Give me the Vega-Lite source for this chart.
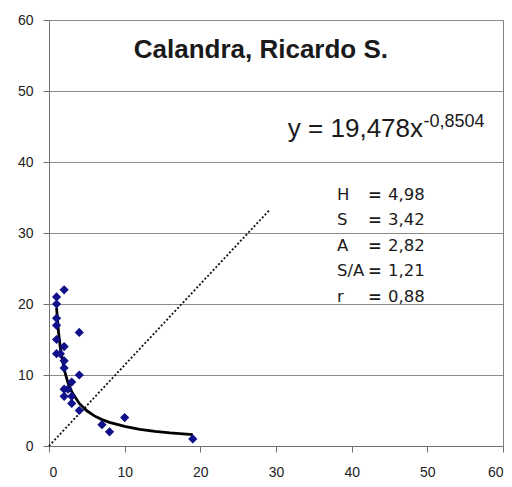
{
  "$schema": "https://vega.github.io/schema/vega-lite/v6.json",
  "width": 454,
  "height": 426,
  "autosize": "none",
  "padding": {"left": 49, "top": 20, "right": 9, "bottom": 41},
  "background": "white",
  "config": {
    "view": {"stroke": "#808080", "strokeWidth": 1},
    "axis": {
      "labelFont": "Liberation Sans",
      "labelFontSize": 14,
      "labelColor": "#222222",
      "domainColor": "#707070",
      "tickColor": "#707070",
      "tickSize": 6,
      "title": null
    }
  },
  "datasets": {
    "points": [
      {"x": 2, "y": 22}, {"x": 1, "y": 21}, {"x": 1, "y": 20}, {"x": 1, "y": 18},
      {"x": 1, "y": 17}, {"x": 1, "y": 15}, {"x": 1, "y": 13}, {"x": 1.5, "y": 13},
      {"x": 4, "y": 16}, {"x": 2, "y": 14}, {"x": 2, "y": 12}, {"x": 2, "y": 11},
      {"x": 4, "y": 10}, {"x": 3, "y": 9}, {"x": 2, "y": 8}, {"x": 2.5, "y": 8},
      {"x": 2, "y": 7}, {"x": 3, "y": 7}, {"x": 3, "y": 6}, {"x": 4, "y": 5},
      {"x": 7, "y": 3}, {"x": 8, "y": 2}, {"x": 10, "y": 4}, {"x": 19, "y": 1}
    ],
    "trend": [
      {"x": 1, "y": 19.48}, {"x": 1.25, "y": 16.11}, {"x": 1.5, "y": 13.8}, {"x": 2, "y": 10.8},
      {"x": 2.5, "y": 8.94}, {"x": 3, "y": 7.65}, {"x": 4, "y": 5.99}, {"x": 5, "y": 4.96},
      {"x": 6, "y": 4.24}, {"x": 7, "y": 3.72}, {"x": 8, "y": 3.32}, {"x": 10, "y": 2.75},
      {"x": 12, "y": 2.35}, {"x": 14, "y": 2.07}, {"x": 16, "y": 1.84}, {"x": 19, "y": 1.59}
    ],
    "diag": [{"x": 0, "y": 0}, {"x": 29.2, "y": 33.3}],
    "stats": [
      {"stat": "H", "value": "4,98"},
      {"stat": "S", "value": "3,42"},
      {"stat": "A", "value": "2,82"},
      {"stat": "S/A", "value": "1,21"},
      {"stat": "r", "value": "0,88"}
    ]
  },
  "layer": [
    {
      "data": {"name": "diag"},
      "mark": {"type": "line", "color": "#111111", "strokeWidth": 1.8, "strokeDash": [2, 2]},
      "encoding": {
        "x": {"field": "x", "type": "quantitative", "scale": {"domain": [0, 60], "nice": false},
              "axis": {"values": [0, 10, 20, 30, 40, 50, 60], "grid": false, "labelPadding": 13}},
        "y": {"field": "y", "type": "quantitative", "scale": {"domain": [0, 60], "nice": false},
              "axis": {"values": [0, 10, 20, 30, 40, 50, 60], "grid": true, "gridColor": "#8c8c8c", "labelPadding": 10}}
      }
    },
    {
      "data": {"name": "trend"},
      "mark": {"type": "line", "color": "#000000", "strokeWidth": 2.8},
      "encoding": {
        "x": {"field": "x", "type": "quantitative"},
        "y": {"field": "y", "type": "quantitative"}
      }
    },
    {
      "data": {"name": "points"},
      "mark": {"type": "point", "shape": "diamond", "filled": true, "color": "#10108a", "size": 85, "opacity": 1},
      "encoding": {
        "x": {"field": "x", "type": "quantitative"},
        "y": {"field": "y", "type": "quantitative"}
      }
    },
    {
      "data": {"values": [{}]},
      "mark": {"type": "text", "text": "Calandra, Ricardo S.", "font": "Liberation Sans", "fontSize": 26, "fontWeight": "bold", "align": "center", "baseline": "alphabetic", "color": "#1a1a1a"},
      "encoding": {
        "x": {"datum": 28.0, "type": "quantitative"},
        "y": {"datum": 54.65, "type": "quantitative"}
      }
    },
    {
      "data": {"values": [{}]},
      "mark": {"type": "text", "text": "y = 19,478x", "font": "Liberation Sans", "fontSize": 26, "align": "right", "baseline": "alphabetic", "color": "#1a1a1a"},
      "encoding": {
        "x": {"datum": 49.43, "type": "quantitative"},
        "y": {"datum": 43.52, "type": "quantitative"}
      }
    },
    {
      "data": {"values": [{}]},
      "mark": {"type": "text", "text": "-0,8504", "font": "Liberation Sans", "fontSize": 18, "align": "left", "baseline": "alphabetic", "color": "#1a1a1a"},
      "encoding": {
        "x": {"datum": 49.5, "type": "quantitative"},
        "y": {"datum": 44.93, "type": "quantitative"}
      }
    },
    {
      "data": {"name": "stats"},
      "mark": {"type": "text", "font": "DejaVu Sans", "fontSize": 16.5, "align": "left", "baseline": "alphabetic", "color": "#1a1a1a"},
      "encoding": {
        "x": {"datum": 38.06, "type": "quantitative"},
        "y": {"datum": 34.65, "type": "quantitative"},
        "yOffset": {"field": "stat", "type": "nominal", "scale": {"type": "point", "domain": ["H", "S", "A", "S/A", "r"], "range": [0, 102], "padding": 0}},
        "text": {"field": "stat"}
      }
    },
    {
      "data": {"name": "stats"},
      "mark": {"type": "text", "font": "DejaVu Sans", "fontSize": 16.5, "fontWeight": "bold", "align": "center", "baseline": "alphabetic", "color": "#1a1a1a"},
      "encoding": {
        "x": {"datum": 43.08, "type": "quantitative"},
        "y": {"datum": 34.65, "type": "quantitative"},
        "yOffset": {"field": "stat", "type": "nominal", "scale": {"type": "point", "domain": ["H", "S", "A", "S/A", "r"], "range": [0, 102], "padding": 0}},
        "text": {"value": "="}
      }
    },
    {
      "data": {"name": "stats"},
      "mark": {"type": "text", "font": "DejaVu Sans", "fontSize": 16.5, "align": "left", "baseline": "alphabetic", "color": "#1a1a1a"},
      "encoding": {
        "x": {"datum": 44.8, "type": "quantitative"},
        "y": {"datum": 34.65, "type": "quantitative"},
        "yOffset": {"field": "stat", "type": "nominal", "scale": {"type": "point", "domain": ["H", "S", "A", "S/A", "r"], "range": [0, 102], "padding": 0}},
        "text": {"field": "value"}
      }
    }
  ]
}
